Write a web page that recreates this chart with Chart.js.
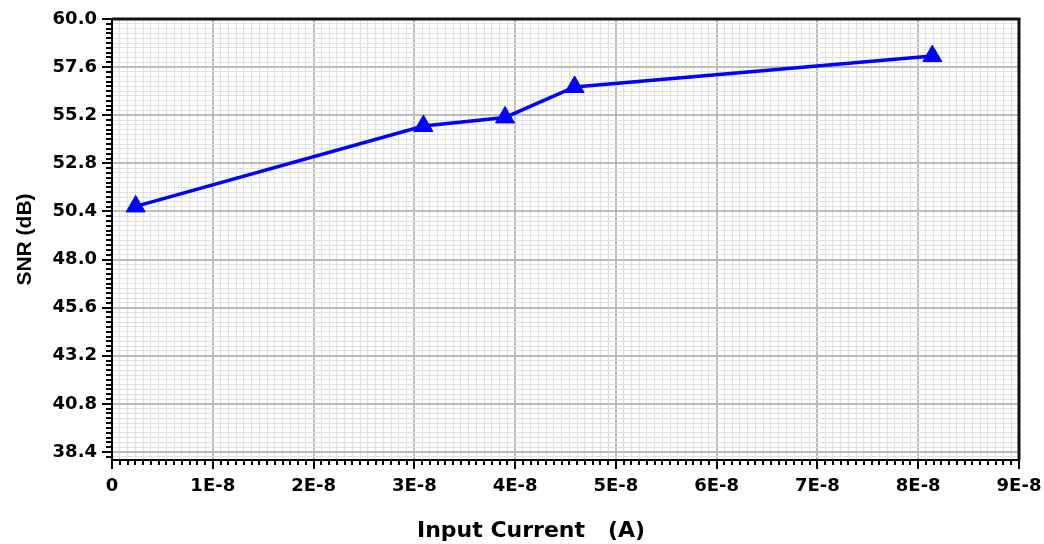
<!DOCTYPE html>
<html>
<head>
<meta charset="utf-8">
<title>SNR vs Input Current</title>
<script src="https://cdn.jsdelivr.net/npm/chart.js@4.4.1/dist/chart.umd.min.js"></script>
<style>
    body { margin: 0; background: #fff; }
    #wrap { width: 1044px; height: 544px; }
</style>
</head>
<body>
<div id="wrap"><canvas id="snr_chart" width="1044" height="544"></canvas></div>
<script>
// data
const currents = [0.235e-8, 3.09e-8, 3.90e-8, 4.59e-8, 8.14e-8];
const snrValues = [50.65, 54.66, 55.09, 56.61, 58.15];

// tick labels
const xTickLabels = ["0", "1E-8", "2E-8", "3E-8", "4E-8", "5E-8", "6E-8", "7E-8", "8E-8", "9E-8"];
const yTickLabels = ["60.0", "57.6", "55.2", "52.8", "50.4", "48.0", "45.6", "43.2", "40.8", "38.4"];

const xMinorPerMajor = 13;
const yMinorPerMajor = 10;

// build major + minor ticks from the labelled values
function makeTicks(labels, parts, lowEnd) {
    const majors = labels.map(Number);
    const step = (majors[1] - majors[0]) / parts;
    const ticks = [];
    for (let i = 0; i < majors.length; i++) {
        ticks.push({ value: majors[i], major: true, text: labels[i] });
        const last = i === majors.length - 1;
        for (let k = 1; k < parts; k++) {
            const v = majors[i] + step * k;
            if (last && (lowEnd === undefined || (step > 0 ? v > lowEnd : v < lowEnd))) break;
            ticks.push({ value: v, major: false, text: "" });
        }
    }
    return ticks;
}

const xTicks = makeTicks(xTickLabels, xMinorPerMajor, 9e-8);
const yTicks = makeTicks(yTickLabels, yMinorPerMajor, 38.0);

Chart.defaults.font.family = "'DejaVu Sans', sans-serif";
Chart.defaults.font.weight = "bold";
Chart.defaults.color = "#000";

const gridColor = (ctx) => (ctx.tick && ctx.tick.major ? "#bdbdbd" : "#e0e0e0");
const gridWidth = (ctx) => (ctx.tick && ctx.tick.major ? 2 : 1);

// tick marks + frame
const framePlugin = {
    id: "frame",
    afterDraw(chart) {
        const { ctx, chartArea } = chart;
        const xs = chart.scales.x;
        const ys = chart.scales.y;
        ctx.save();
        ctx.strokeStyle = "#000";
        ctx.lineWidth = 2;
        ctx.beginPath();
        xs.ticks.forEach((t) => {
            const px = Math.round(xs.getPixelForValue(t.value));
            ctx.moveTo(px, chartArea.bottom);
            ctx.lineTo(px, chartArea.bottom + (t.major ? 9 : 5));
        });
        ys.ticks.forEach((t) => {
            const py = Math.round(ys.getPixelForValue(t.value));
            ctx.moveTo(chartArea.left, py);
            ctx.lineTo(chartArea.left - (t.major ? 10 : 6), py);
        });
        ctx.stroke();

        ctx.lineWidth = 3;
        ctx.strokeStyle = "#111";
        ctx.beginPath();
        ctx.moveTo(chartArea.left, chartArea.top);
        ctx.lineTo(chartArea.right, chartArea.top);
        ctx.lineTo(chartArea.right, chartArea.bottom);
        ctx.stroke();
        ctx.restore();
    },
};

const snrChart = new Chart(document.getElementById("snr_chart").getContext("2d"), {
    type: "line",
    data: {
        datasets: [
            {
                label: "SNR",
                data: currents.map((c, i) => ({ x: c, y: snrValues[i] })),
                borderColor: "#0000ff",
                backgroundColor: "#0000ff",
                borderWidth: 3.5,
                pointStyle: "triangle",
                pointRadius: 11,
                pointBorderWidth: 1,
                pointBackgroundColor: "#0000ff",
                pointBorderColor: "#0000ff",
                tension: 0,
                fill: false,
            },
        ],
    },
    options: {
        responsive: false,
        animation: false,
        events: [],
        layout: { padding: { top: 19, right: 25, left: 0, bottom: 0 } },
        plugins: {
            legend: { display: false },
            tooltip: { enabled: false },
        },
        scales: {
            x: {
                type: "linear",
                min: 0,
                max: 9e-8,
                afterBuildTicks: (scale) => {
                    scale.ticks = xTicks.map((t) => ({ value: t.value, major: t.major, text: t.text }));
                },
                afterFit: (scale) => {
                    scale.height = 84;
                    scale.paddingLeft = 0;
                    scale.paddingRight = 0;
                },
                ticks: {
                    autoSkip: false,
                    maxRotation: 0,
                    padding: 16,
                    font: { size: 18, weight: "bold" },
                    callback: function (value, index, ticks) {
                        return ticks[index].text;
                    },
                },
                grid: {
                    color: gridColor,
                    lineWidth: gridWidth,
                    drawTicks: false,
                },
                border: { display: true, color: "#000", width: 2 },
                title: {
                    display: true,
                    text: "Input Current   (A)         ",
                    font: { size: 22, weight: "bold" },
                    padding: { top: 3, bottom: 0 },
                },
            },
            y: {
                type: "linear",
                min: 38.0,
                max: 60.0,
                afterBuildTicks: (scale) => {
                    scale.ticks = yTicks.map((t) => ({ value: t.value, major: t.major, text: t.text }));
                },
                afterFit: (scale) => {
                    scale.width = 112;
                    scale.paddingTop = 0;
                    scale.paddingBottom = 0;
                },
                ticks: {
                    autoSkip: false,
                    padding: 15,
                    font: { size: 18, weight: "bold" },
                    callback: function (value, index, ticks) {
                        return ticks[index].text;
                    },
                },
                grid: {
                    color: gridColor,
                    lineWidth: gridWidth,
                    drawTicks: false,
                },
                border: { display: true, color: "#000", width: 2 },
                title: {
                    display: true,
                    text: "SNR (dB)",
                    font: { family: "'Liberation Sans', Arial, sans-serif", size: 21, weight: "bold" },
                    padding: { top: 13, bottom: 0 },
                },
            },
        },
    },
    plugins: [framePlugin],
});
</script>
</body>
</html>
